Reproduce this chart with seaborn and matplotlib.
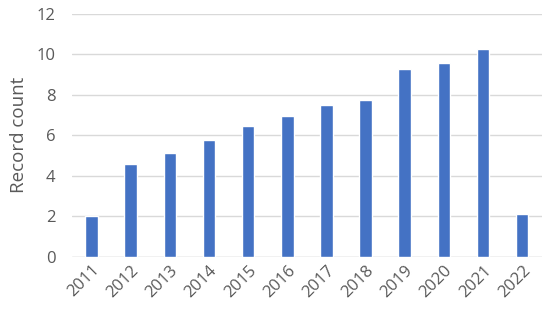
import matplotlib
matplotlib.use("Agg")
import matplotlib.pyplot as plt
import seaborn as sns
import pandas as pd

years = ["2011", "2012", "2013", "2014", "2015", "2016",
         "2017", "2018", "2019", "2020", "2021", "2022"]
counts = [2.0, 4.59, 5.1, 5.78, 6.44, 6.95, 7.51, 7.73, 9.26, 9.57, 10.23, 2.11]

sns.set_style("white")
plt.rcParams['font.family'] = ['Open Sans', 'DejaVu Sans']

df = pd.DataFrame({"year": years, "count": counts})

fig = plt.figure(figsize=(5.5, 3.16), dpi=100)
ax = fig.add_axes([0.131, 0.188, 0.854, 0.769])
ax.yaxis.grid(True, color="#D9D9D9", linewidth=1)
ax.set_axisbelow(True)
sns.barplot(data=df, x="year", y="count", color="#4472C4", width=0.32,
            saturation=1, ax=ax, zorder=3)
ax.set_ylim(0, 12)
ax.set_xlim(-0.5, 11.5)
ax.set_yticks(range(0, 13, 2))
sns.despine(ax=ax, left=True, bottom=True)
ax.axhline(0, color="#D9D9D9", linewidth=1, zorder=2)
ax.tick_params(axis="both", length=0, labelsize=12, colors="#595959")
ax.tick_params(axis="y", pad=12)
ax.tick_params(axis="x", pad=4)
plt.setp(ax.get_xticklabels(), rotation=45, ha="right", rotation_mode="anchor")
ax.set_xlabel("")
ax.set_ylabel("Record count", fontsize=13.5, color="#595959", labelpad=6)

fig.savefig("out.png", dpi=100)
